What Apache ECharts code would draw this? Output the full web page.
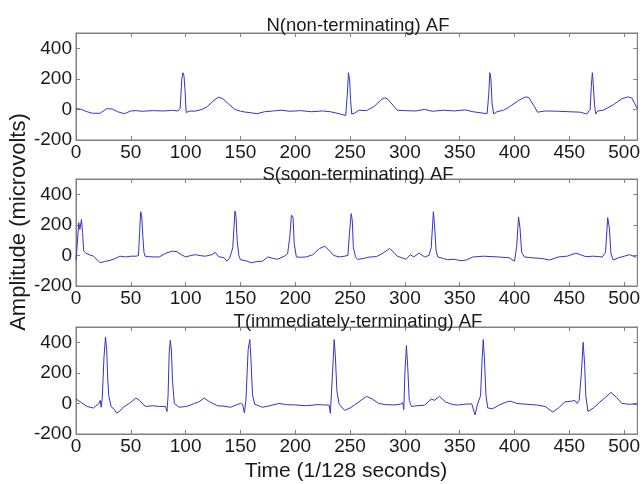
<!DOCTYPE html>
<html>
<head>
<meta charset="utf-8">
<script src="https://cdn.jsdelivr.net/npm/echarts@6/dist/echarts.min.js"></script>
<style>html,body{margin:0;padding:0;background:#fff;}#c{width:643px;height:484px;}</style>
</head>
<body>
<div id="c"></div>
<script>
// Panel titles
var panelTitles = ['N(non-terminating) AF', 'S(soon-terminating) AF', 'T(immediately-terminating) AF'];
var xAxisTitle = 'Time (1/128 seconds)';
var yAxisTitle = 'Amplitude (microvolts)';

// N (non-terminating) AF
var nTime = [0,5,10,15,22,28,33,38,44,50,55,60,70,80,88,93,95,96.5,97.5,98.5,99.5,100.5,102,104,108,115,120,126,130,134,140,145,150,155,160,165,172,180,187,195,205,215,225,232,240,246,247.5,248.5,249.5,250.5,251.5,254,258,265,272,278,281,284,290,293,300,310,318,325,335,345,355,362,375,376.5,377.5,378.5,379.5,381,384,390,396,404,410,413,418,421,428,440,450,460,466,469,470,471,471.5,473,474,476,481,490,498,503,507,512];
var nAmp  = [5,0,-15,-25,-25,5,3,-15,-28,-10,-8,-12,-8,-10,-6,-10,5,200,240,220,120,-20,-30,-10,-12,0,20,60,80,70,30,0,-12,-18,-22,-28,-15,-10,-5,-12,-8,-15,-10,-15,-28,-40,100,240,200,60,-30,-25,-5,-8,20,60,76,70,20,-5,-8,-10,0,-12,-5,-10,-3,-15,-28,100,240,200,40,-30,-15,-5,20,60,82,78,20,-18,-10,-12,-15,-18,-30,0,150,240,200,30,-30,-10,-5,30,70,82,75,5];

// S (soon-terminating) AF
var sTime = [0,1,2.5,3.5,5,6,7,9,12,16,22,26,31,36,40,45,50,55,57,58,59,60,61,62,63,66,72,76,82,88,92,96,100,105,109,114,118,124,127,130,135,137.5,140,143,145,146,147,148.5,150,155,160,165,170,175,180,184,190,193,195,196.5,198,199,201,205,210,216,222,227,230,235,240,245,248,249.5,251,252,253,255,257,262,268,274,280,286,290,293,297,301,305,308,313,318,322,324,326,327,328.5,330,335,339,345,351,356,362,372,385,395,400,402,403.7,405,406.5,409,415,425,432,440,448,456,460,465,472,480,483,485,486.5,488,490,495,500,505,511];
var sAmp  = [-30,60,215,170,235,150,30,15,5,-5,-48,-40,-33,-20,-5,-10,-5,-5,0,150,286,250,120,20,-5,-8,-10,-10,15,28,25,5,-10,0,5,-2,-5,5,20,-8,-15,-37,-20,50,290,250,100,0,-28,-35,-48,-40,-38,-10,-20,-25,-5,10,120,264,250,80,-10,-12,-10,5,45,60,40,0,-10,-5,0,150,273,230,50,-10,-26,-20,-10,-8,15,45,20,-5,-15,-25,5,-10,15,-10,0,50,286,200,30,-10,-20,-28,-25,-35,-30,-10,-5,-10,-15,-38,60,251,180,20,-10,-15,-20,-30,-10,-5,15,5,-8,-5,-10,20,247,180,10,-30,-15,-5,5,-12];

// T (immediately-terminating) AF
var tTime = [0,4,10,16,21,22,23,24,25.5,26.9,28,29,30,32,35,37,40,43,48.6,54.6,58,61,64,70,76,81.5,83,84,85,86,87,88,89.7,94,100,103,108,112,117,122,129,135,141,146,150,152,153.6,155,157,158.5,159.5,161,163,170,177,185,192,200,210,220,228,231,232,234,235.5,236.5,238,240,245,250,254,258,265,270,276,282,290,296,298,299,300,301.4,302.5,304,306,311,318,324,327,331.5,337,344,349,355,361,364,366,369,370.5,371.5,372.5,374,375.6,380,386,393,396,402,410,420,428,435,440,446,452,455,457,459,461,462.6,464,465,467,472,478,483,488,493,498,504,512];
var tAmp  = [29,10,-20,-30,0,20,-25,40,300,435,350,150,46,-20,-40,-63,-50,-25,0,35,20,-5,-20,-15,-20,-20,-53,50,330,413,350,150,0,-25,-20,-15,0,10,35,10,-15,-18,-25,-10,0,-5,-63,20,350,418,300,57,-5,-25,-15,0,-8,-10,-15,-8,-10,-12,-65,200,418,320,80,-5,-45,-30,-10,10,46,30,0,-8,-10,-5,5,-40,200,378,250,20,-20,-15,-12,29,20,46,10,-8,-10,-5,-3,-75,-10,50,300,418,300,50,-30,-35,-10,10,15,0,-5,-10,-20,-57,-30,10,15,20,0,20,200,400,250,50,-52,-30,10,40,72,40,0,-5,-5];

var series = [[nTime, nAmp], [sTime, sAmp], [tTime, tAmp]];

var gridTops = [33, 179, 327];
var gridH = 107;
var titleTops = [11, 160, 307];
var frame = '#808080';
var txt = '#1a1a1a';
var fontFam = 'Arial, "Liberation Sans", Helvetica, sans-serif';

var option = {
  animation: false,
  backgroundColor: '#fff',
  title: [],
  grid: [],
  xAxis: [],
  yAxis: [],
  series: [],
  graphic: [
    { type: 'text', x: 19, y: 222, rotation: Math.PI / 2,
      style: { text: yAxisTitle, fill: txt, font: '22px ' + fontFam, textAlign: 'center', textVerticalAlign: 'middle' } },
    { type: 'text', x: 346, y: 471,
      style: { text: xAxisTitle, fill: txt, font: '21px ' + fontFam, textAlign: 'center', textVerticalAlign: 'middle' } }
  ]
};

for (var i = 0; i < 3; i++) {
  option.title.push({ text: panelTitles[i], left: 353, top: titleTops[i], textAlign: 'center',
    textStyle: { fontSize: 18.5, fontWeight: 'normal', color: txt, fontFamily: fontFam } });
  option.grid.push({ left: 76, right: 2, top: gridTops[i], height: gridH, show: true, borderColor: frame, borderWidth: 1, backgroundColor: '#fff' });
  var xb = {
    type: 'value', gridIndex: i, position: 'bottom', min: 0, max: 512, interval: 50,
    axisLine: { show: true, onZero: false, lineStyle: { color: frame, width: 1 } },
    axisTick: { show: true, inside: true, length: 4, lineStyle: { color: frame } },
    axisLabel: { show: true, margin: 3, color: txt, fontSize: 19, fontFamily: fontFam, showMaxLabel: false },
    splitLine: { show: false }
  };
  var xt = JSON.parse(JSON.stringify(xb));
  xt.position = 'top'; xt.axisLabel = { show: false };
  var yl = {
    type: 'value', gridIndex: i, position: 'left', min: -200, max: 500, interval: 200,
    axisLine: { show: true, onZero: false, lineStyle: { color: frame, width: 1 } },
    axisTick: { show: true, inside: true, length: 4, lineStyle: { color: frame } },
    axisLabel: { show: true, margin: 4, color: txt, fontSize: 19, fontFamily: fontFam, showMaxLabel: false },
    splitLine: { show: false }
  };
  var yr = JSON.parse(JSON.stringify(yl));
  yr.position = 'right'; yr.axisLabel = { show: false };
  option.xAxis.push(xb, xt);
  option.yAxis.push(yl, yr);
  var d = [];
  for (var k = 0; k < series[i][0].length; k++) d.push([series[i][0][k], series[i][1][k]]);
  option.series.push({
    type: 'line', xAxisIndex: 2 * i, yAxisIndex: 2 * i, data: d, showSymbol: false, symbol: 'none',
    lineStyle: { color: '#3434cc', width: 1 }, silent: true
  });
}

var chart = echarts.init(document.getElementById('c'), null, { renderer: 'canvas' });
chart.setOption(option);
</script>
</body>
</html>
